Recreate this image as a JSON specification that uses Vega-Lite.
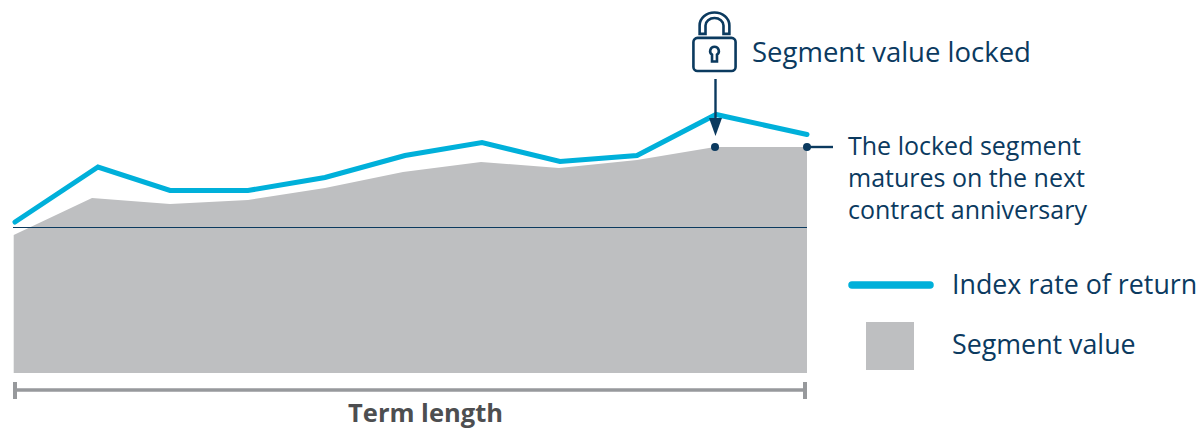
{"$schema":"https://vega.github.io/schema/vega-lite/v6.json","width":1198,"height":428,"padding":0,"autosize":{"type":"none"},"background":"white","view":{"stroke":null},
"datasets":{
"segment":[{"t":13.7,"v":138},{"t":92,"v":175},{"t":170,"v":169},{"t":248,"v":173},{"t":325,"v":185},{"t":403,"v":201},{"t":481,"v":211},{"t":559,"v":205},{"t":637,"v":213},{"t":715,"v":226},{"t":807,"v":226}],
"index":[{"t":15,"v":151},{"t":98,"v":206},{"t":170,"v":182.5},{"t":248,"v":182.5},{"t":325,"v":195.5},{"t":405,"v":217.5},{"t":482,"v":230.5},{"t":560,"v":211.5},{"t":637,"v":217.5},{"t":716,"v":258.5},{"t":807,"v":238.5}],
"rules":[{"name":"base","t":13,"t2":807,"v":145.5,"v2":145.5},{"name":"arrow","t":715.5,"t2":715.5,"v":294,"v2":250},{"name":"connector","t":807,"t2":833,"v":226,"v2":226}],
"bracket":[{"t":13,"t2":806,"v":-17,"v2":-17}],
"bracketEnds":[{"t":15,"t2":15,"v":-9,"v2":-26},{"t":805,"t2":805,"v":-9,"v2":-26}],
"dots":[{"t":715,"v":226},{"t":807,"v":226}],
"lockLabel":[{"t":752,"v":319,"text":"Segment value locked"}],
"labels":[{"t":848,"v":226,"text":"The locked segment"},{"t":848,"v":194,"text":"matures on the next"},{"t":848,"v":162,"text":"contract anniversary"}],
"legendLabels":[{"t":952,"v":87,"text":"Index rate of return"},{"t":952,"v":27,"text":"Segment value"}],
"legendLine":[{"t":852,"v":88},{"t":930,"v":88}],
"legendSwatch":[{"t":866,"t2":914,"v":51,"v2":3}],
"axisTitle":[{"t":425.5,"v":-49,"text":"Term length"}],
"lock":[{"t":714.5,"v":332}],
"arrowHead":[{"t":715.5,"v":246}]
},
"encoding":{
"x":{"field":"t","type":"quantitative","scale":{"domain":[0,1198],"nice":false,"zero":false},"axis":null},
"y":{"field":"v","type":"quantitative","scale":{"domain":[-55,373],"nice":false,"zero":false},"axis":null}
},
"layer":[
{"data":{"name":"segment"},"mark":{"type":"area","color":"#bebfc1","interpolate":"linear"},"encoding":{"y2":{"datum":0}}},
{"data":{"name":"rules"},"transform":[{"filter":"datum.name==='base'"}],"mark":{"type":"rule","color":"#0b3a5f","strokeWidth":1.2},"encoding":{"x2":{"field":"t2"},"y2":{"field":"v2"}}},
{"data":{"name":"index"},"mark":{"type":"line","color":"#00b0da","strokeWidth":5,"strokeCap":"round","strokeJoin":"miter"}},
{"data":{"name":"rules"},"transform":[{"filter":"datum.name!=='base'"}],"mark":{"type":"rule","color":"#0b3a5f","strokeWidth":2.4},"encoding":{"x2":{"field":"t2"},"y2":{"field":"v2"}}},
{"data":{"name":"arrowHead"},"mark":{"type":"point","shape":"M-0.72,-1L0.72,-1L0,1Z","size":324,"filled":true,"color":"#0b3a5f","opacity":1}},
{"data":{"name":"dots"},"mark":{"type":"point","shape":"circle","size":64,"filled":true,"color":"#0b3a5f","opacity":1}},
{"data":{"name":"lock"},"mark":{"type":"point","shape":"M-0.55,-0.1H0.55A0.13,0.13 0 0 1 0.68,0.03V0.84A0.13,0.13 0 0 1 0.55,0.97H-0.55A0.13,0.13 0 0 1 -0.68,0.84V0.03A0.13,0.13 0 0 1 -0.55,-0.1ZM-0.48,-0.23V-0.5A0.48,0.42 0 0 1 0.48,-0.5V-0.23H0.29V-0.5A0.29,0.24 0 0 0 -0.29,-0.5V-0.23ZM-0.08,0.66V0.44A0.14,0.14 0 1 1 0.08,0.44V0.66Z","size":3844,"filled":false,"stroke":"#0b3a5f","strokeWidth":2.6,"opacity":1}},
{"data":{"name":"bracket"},"mark":{"type":"rule","color":"#97999c","strokeWidth":3.5},"encoding":{"x2":{"field":"t2"},"y2":{"field":"v2"}}},
{"data":{"name":"bracketEnds"},"mark":{"type":"rule","color":"#97999c","strokeWidth":4},"encoding":{"x2":{"field":"t2"},"y2":{"field":"v2"}}},
{"data":{"name":"legendLine"},"mark":{"type":"line","color":"#00b0da","strokeWidth":7.5,"strokeCap":"round"}},
{"data":{"name":"legendSwatch"},"mark":{"type":"rect","color":"#bebfc1"},"encoding":{"x2":{"field":"t2"},"y2":{"field":"v2"}}},
{"data":{"name":"lockLabel"},"mark":{"type":"text","align":"left","baseline":"middle","font":"Open Sans","fontSize":27.5,"color":"#0b3a5f"},"encoding":{"text":{"field":"text"}}},
{"data":{"name":"labels"},"mark":{"type":"text","align":"left","baseline":"middle","font":"Open Sans","fontSize":25,"color":"#0b3a5f"},"encoding":{"text":{"field":"text"}}},
{"data":{"name":"legendLabels"},"mark":{"type":"text","align":"left","baseline":"middle","font":"Open Sans","fontSize":26.8,"color":"#0b3a5f"},"encoding":{"text":{"field":"text"}}},
{"data":{"name":"axisTitle"},"mark":{"type":"text","align":"center","baseline":"alphabetic","font":"Open Sans","fontWeight":"bold","fontSize":25.5,"color":"#4d4e50"},"encoding":{"text":{"field":"text"}}}
]}
